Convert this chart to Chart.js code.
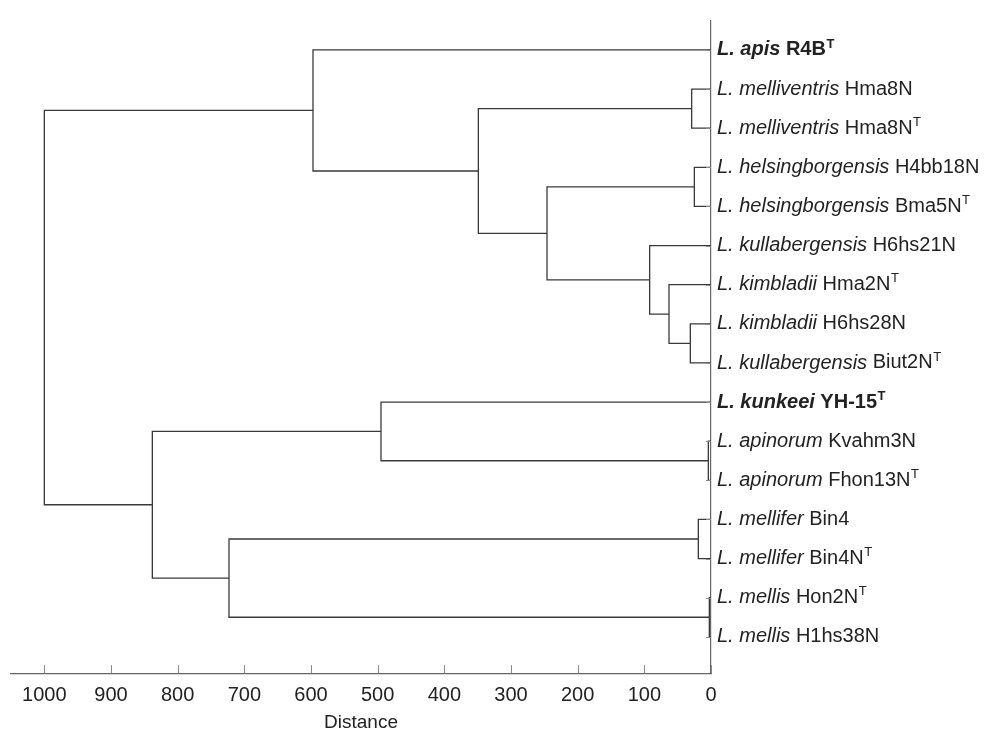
<!DOCTYPE html>
<html>
<head>
<meta charset="utf-8">
<script src="https://cdn.jsdelivr.net/npm/chart.js@4"></script>
<style>
  body { margin: 0; background: #fff; }
  #wrap { width: 994px; height: 729px; }
</style>
</head>
<body>
<div id="wrap"><canvas id="dendro" width="994" height="729"></canvas></div>
<script>
// leaves, top to bottom
const species = [
  "L. apis", "L. melliventris", "L. melliventris", "L. helsingborgensis",
  "L. helsingborgensis", "L. kullabergensis", "L. kimbladii", "L. kimbladii",
  "L. kullabergensis", "L. kunkeei", "L. apinorum", "L. apinorum",
  "L. mellifer", "L. mellifer", "L. mellis", "L. mellis"
];
const strains = [
  "R4B", "Hma8N", "Hma8N", "H4bb18N", "Bma5N", "H6hs21N", "Hma2N", "H6hs28N",
  "Biut2N", "YH-15", "Kvahm3N", "Fhon13N", "Bin4", "Bin4N", "Hon2N", "H1hs38N"
];
const typeStrain = [1, 0, 1, 0, 1, 0, 1, 0, 1, 1, 0, 1, 0, 1, 1, 0];
const boldLeaf   = [1, 0, 0, 0, 0, 0, 0, 0, 0, 1, 0, 0, 0, 0, 0, 0];

// merges (linkage style: 0-15 are leaves, 16+ are earlier merges)
const mergeA      = [1, 3, 7, 6, 5, 17, 16, 0, 10, 9, 12, 14, 26, 25, 23];
const mergeB      = [2, 4, 8, 18, 19, 20, 21, 22, 11, 24, 13, 15, 27, 28, 29];
const mergeHeight = [29, 25, 31, 63, 92, 246, 349, 597, 4, 495, 19, 2.5, 723, 838, 1000];

const distanceTicks = [0, 100, 200, 300, 400, 500, 600, 700, 800, 900, 1000];

// node positions: x = distance, y = row
const nodeX = species.map(() => 0);
const nodeY = species.map((s, i) => i);
mergeHeight.forEach((h, k) => {
  nodeX.push(h);
  nodeY.push((nodeY[mergeA[k]] + nodeY[mergeB[k]]) / 2);
});

const lineColor = '#3a3a3a';
const datasets = mergeHeight.map((h, k) => {
  const a = mergeA[k], b = mergeB[k];
  return {
    data: [
      { x: nodeX[a], y: nodeY[a] },
      { x: h, y: nodeY[a] },
      { x: h, y: nodeY[b] },
      { x: nodeX[b], y: nodeY[b] }
    ],
    showLine: true,
    borderColor: lineColor,
    borderWidth: 1.3,
    pointRadius: 0,
    tension: 0
  };
});

const fontFam = '"Liberation Sans", Arial, Helvetica, sans-serif';

const leafLabels = {
  id: 'leafLabels',
  afterDraw(chart) {
    const ctx = chart.ctx;
    const xs = chart.scales.x, ys = chart.scales.y;
    const x0 = xs.getPixelForValue(0);
    ctx.save();
    // small ticks on the right axis
    ctx.strokeStyle = '#888';
    ctx.lineWidth = 1;
    species.forEach((s, i) => {
      const y = Math.round(ys.getPixelForValue(i)) + 0.5;
      ctx.beginPath();
      ctx.moveTo(x0 - 5, y);
      ctx.lineTo(x0, y);
      ctx.stroke();
    });
    // inward ticks on the distance axis
    const yb = ys.bottom;
    distanceTicks.forEach(v => {
      const x = Math.round(xs.getPixelForValue(v)) + 0.5;
      ctx.beginPath();
      ctx.moveTo(x, yb);
      ctx.lineTo(x, yb - 8);
      ctx.stroke();
    });
    ctx.fillStyle = '#222';
    ctx.textBaseline = 'middle';
    species.forEach((s, i) => {
      const y = ys.getPixelForValue(i);
      const w = boldLeaf[i] ? 'bold ' : '';
      let x = x0 + 6;
      ctx.font = 'italic ' + w + '20px ' + fontFam;
      ctx.fillText(s, x, y);
      x += ctx.measureText(s + ' ').width;
      ctx.font = w + '20px ' + fontFam;
      ctx.fillText(strains[i], x, y);
      x += ctx.measureText(strains[i]).width;
      if (typeStrain[i]) {
        ctx.font = w + '13px ' + fontFam;
        ctx.fillText('T', x + 0.5, y - 6);
      }
    });
    ctx.restore();
  }
};

new Chart(document.getElementById('dendro'), {
  type: 'scatter',
  data: { datasets },
  options: {
    responsive: false,
    animation: false,
    layout: { padding: { left: 11, top: 21, right: 283, bottom: -5 } },
    plugins: { legend: { display: false }, tooltip: { enabled: false } },
    scales: {
      x: {
        type: 'linear',
        reverse: true,
        min: 0,
        max: 1050,
        afterBuildTicks: s => { s.ticks = distanceTicks.map(v => ({ value: v })); },
        ticks: {
          color: '#222',
          padding: 10,
          font: { family: fontFam, size: 20 },
          callback: v => String(v)
        },
        grid: { display: true, drawOnChartArea: false, drawTicks: false },
        border: { color: '#666', width: 1.2 },
        title: {
          display: true,
          text: 'Distance',
          color: '#222',
          padding: { top: -6, bottom: 0 },
          font: { family: fontFam, size: 19 }
        }
      },
      y: {
        type: 'linear',
        position: 'right',
        reverse: true,
        min: -0.74,
        max: 15.93,
        ticks: { display: false },
        grid: { display: false },
        border: { color: '#666', width: 1.2 },
        afterFit: s => { s.width = 0; }
      }
    }
  },
  plugins: [leafLabels]
});
</script>
</body>
</html>
